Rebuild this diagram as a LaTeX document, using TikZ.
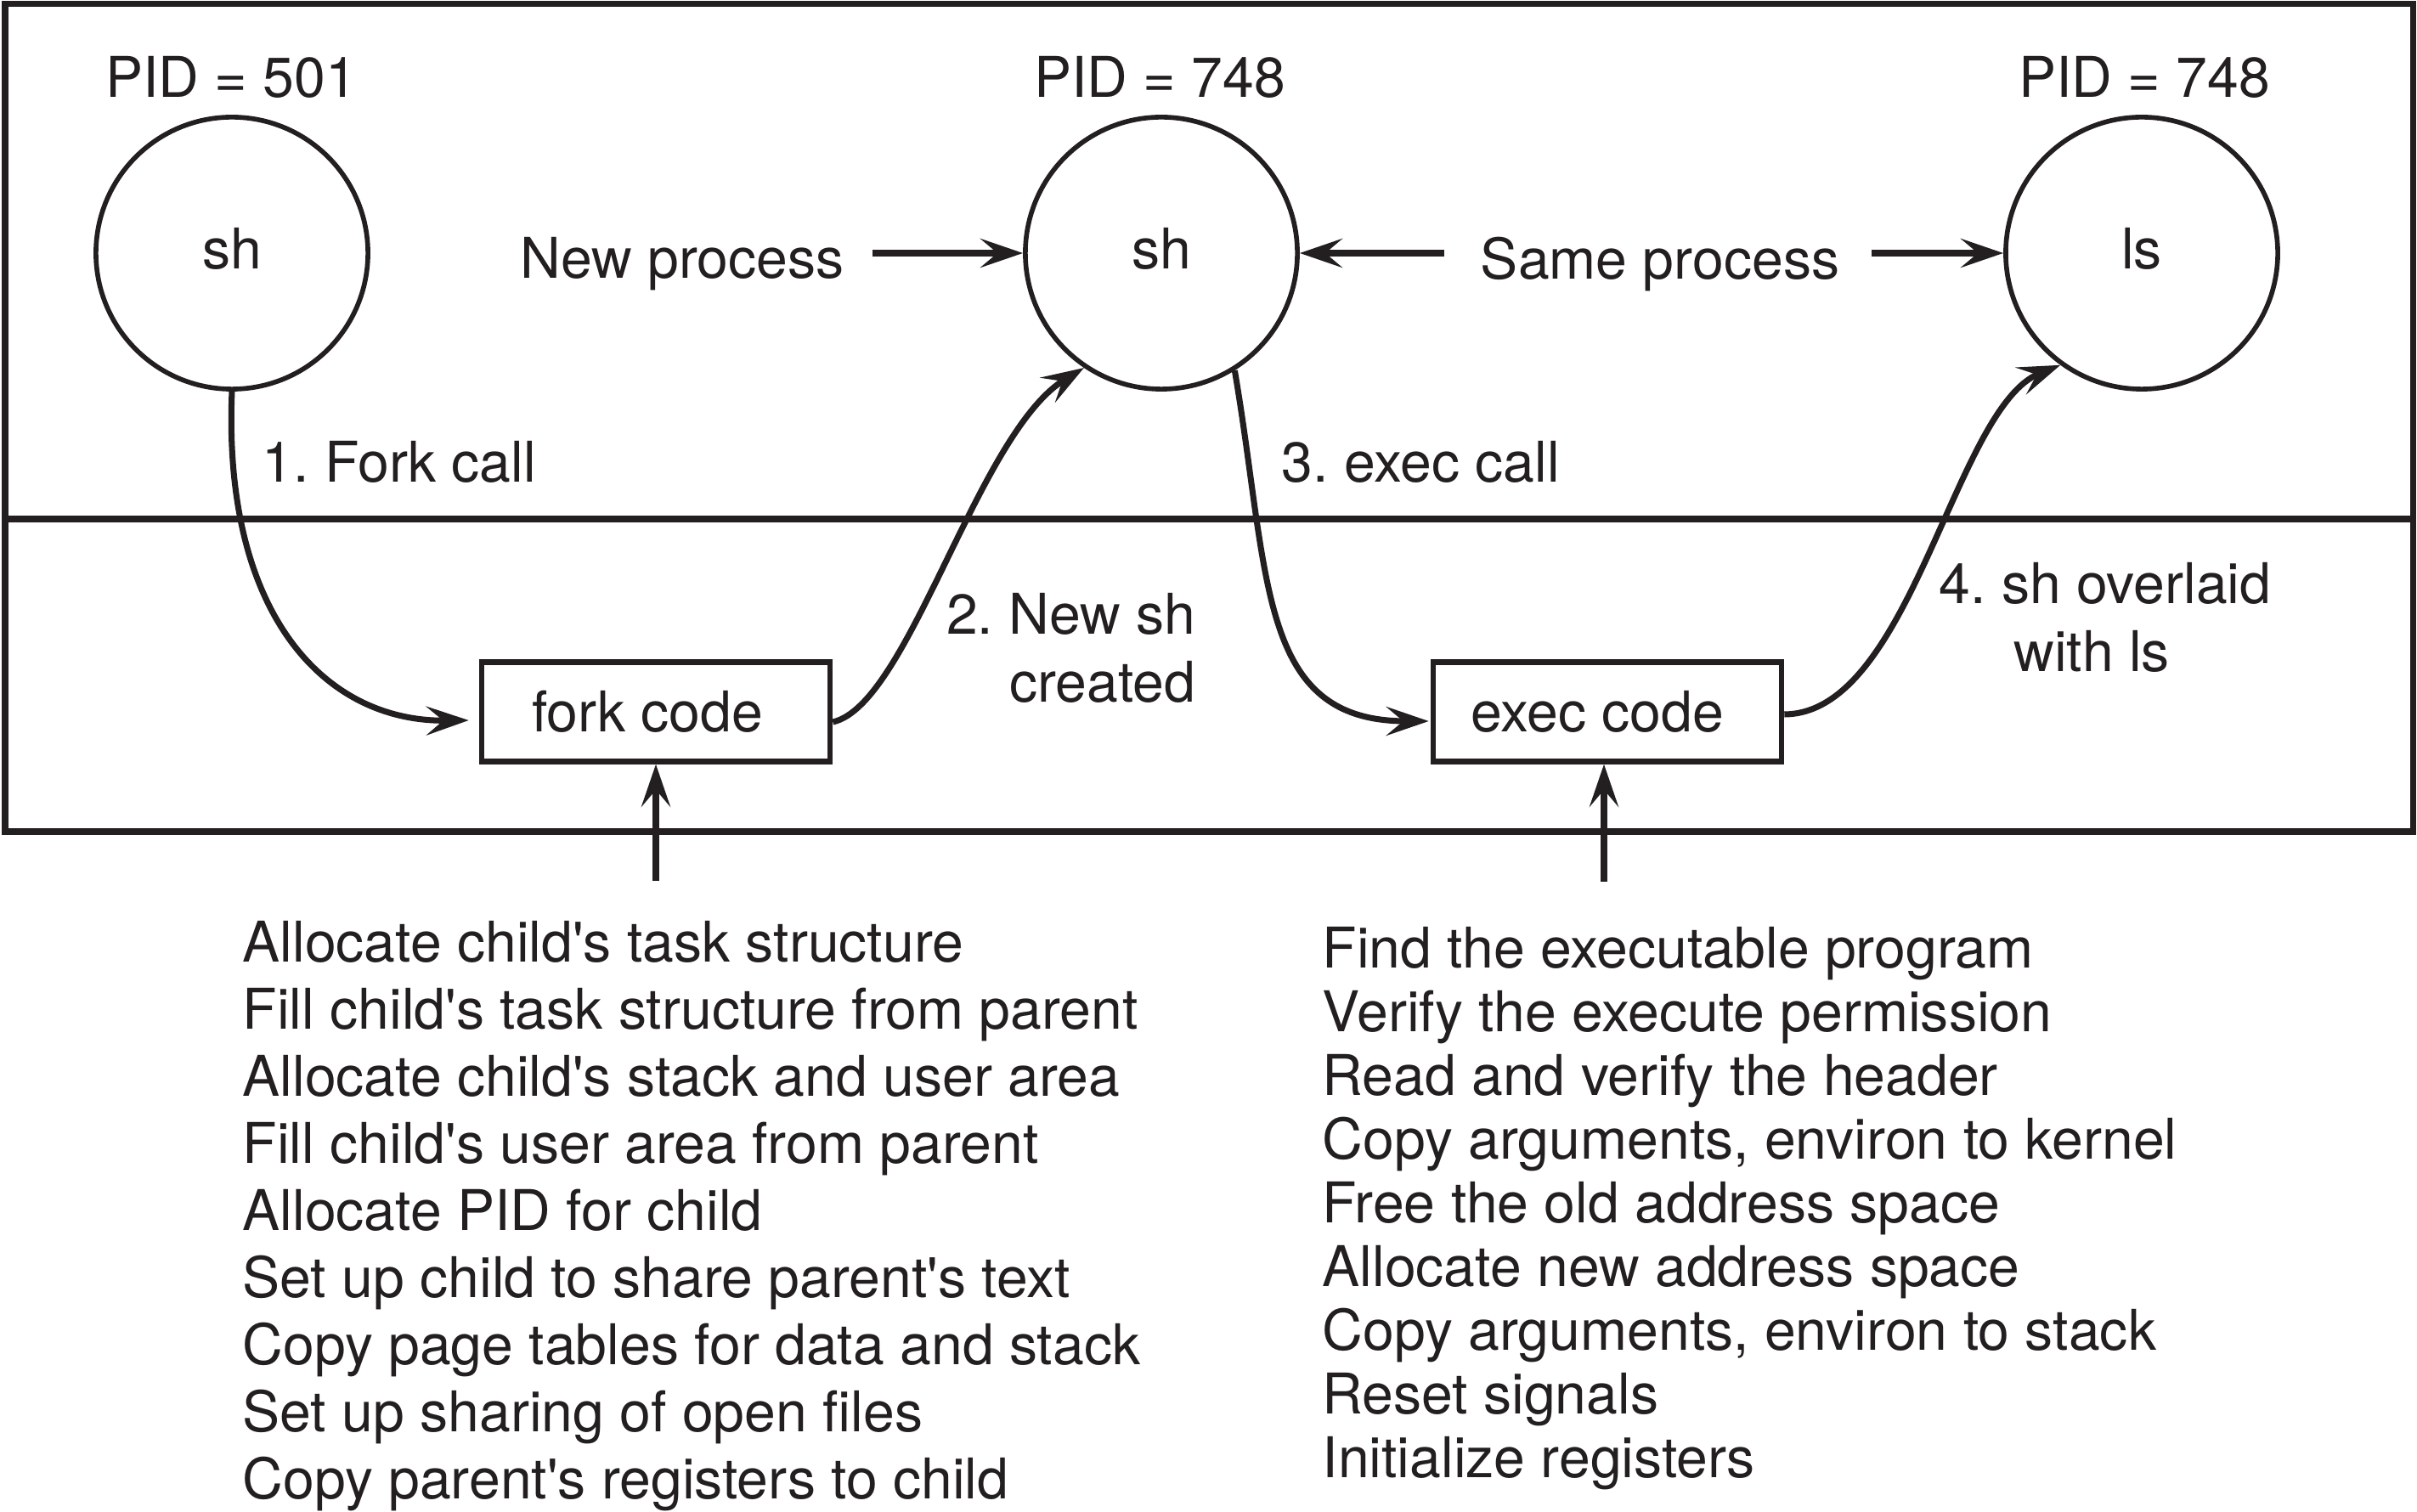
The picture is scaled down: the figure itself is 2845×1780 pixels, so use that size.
\documentclass[tikz,border=0pt]{standalone}
\usepackage{fontspec}
\setmainfont{TeX Gyre Heros}
\usetikzlibrary{arrows.meta}
\definecolor{ink}{RGB}{35,31,32}
\frenchspacing
\newcommand{\apo}{\textquotesingle}
\begin{document}
\begin{tikzpicture}[x=0.01cm,y=-0.01cm,
  every node/.style={text=ink, inner sep=0pt, font=\fontsize{18.8}{22.7}\selectfont},
  proc/.style={circle, draw=ink, line width=1.6pt, minimum size=3.2cm, text height=13.5pt, text depth=2.7pt},
  codebox/.style={rectangle, draw=ink, line width=1.8pt, minimum width=4.1cm, minimum height=1.17cm},
  conn/.style={draw=ink, line width=2pt, -{Stealth[length=0.5cm,width=0.34cm,inset=0.2cm]}},
  sarrow/.style={conn, line width=2.2pt},
  lbl/.style={anchor=base}]
\fill[white] (0,0) rectangle (2845,1780);
% frame
\draw[ink, line width=2pt] (6,5) rectangle (2840,979);
\draw[ink, line width=2pt] (6,611) -- (2840,611);
% processes
\node[proc] (c1) at (273,298) {sh};
\node[proc] (c2) at (1367,298) {sh};
\node[proc] (c3) at (2521,298) {ls};
\node[lbl] (p1) at (272,115) {PID = 501};
\node[lbl] (p2) at (1365,115) {PID = 748};
\node[lbl] (p3) at (2524,115) {PID = 748};
% code boxes
\node[codebox] (fbox) at (772,838) {fork code\kern5.7pt};
\node[codebox] (ebox) at (1892,838) {exec code\kern6.8pt};
% labels
\node[lbl] (np) at (803,328) {New process};
\node[lbl] (sp) at (1954,329) {Same process};
\node[lbl, anchor=base west] (fc) at (308,568) {1. Fork call};
\node[lbl, anchor=base west] (ec) at (1508,568) {3. exec call};
\node[anchor=north east, align=right] (ns) at (1408,698) {2. New sh\\created};
\node[anchor=north, align=center] (ov) at (2478,662) {4. sh overlaid\\with ls\kern9pt};
% straight arrows
\coordinate (a1) at (1027,298);
\coordinate (a2) at (1700,298);
\coordinate (a3) at (2203,298);
\draw[sarrow] (a1) -- (c2.west);
\draw[sarrow] (a2) -- (c2.east);
\draw[sarrow] (a3) -- (c3.west);
% curves
\draw[conn] (c1.south) .. controls (262,720) and (380,850) .. ([shift={(-12,10)}]fbox.west);
\draw[conn] ([shift={(0,12)}]fbox.east) .. controls (1070,830) and (1150,510) .. (c2.-124.6);
\draw[conn] (c2.-58) .. controls (1495,680) and (1480,849) .. ([shift={(-2,11)}]ebox.west);
\draw[conn] ([shift={(0,3)}]ebox.east) .. controls (2250,840) and (2300,480) .. (c3.-126);
% lists
\node[anchor=north west, align=left, font=\fontsize{18.8}{22.45}\selectfont] (flist) at (285,1084) {Allocate child\apo s task structure\\
Fill child\apo s task structure from parent\\
Allocate child\apo s stack and user area\\
Fill child\apo s user area from parent\\
Allocate PID for child\\
Set up child to share parent\apo s text\\
Copy page tables for data and stack\\
Set up sharing of open files\\
Copy parent\apo s registers to child};
\node[anchor=north west, align=left, font=\fontsize{18.8}{21.3}\selectfont] (elist) at (1556,1091) {Find the executable program\\
Verify the execute permission\\
Read and verify the header\\
Copy arguments, environ to kernel\\
Free the old address space\\
Allocate new address space\\
Copy arguments, environ to stack\\
Reset signals\\
Initialize registers};
% up arrows
\coordinate (u1) at (772,1037);
\coordinate (u2) at (1888,1038);
\draw[sarrow] (u1) -- (fbox.south);
\draw[sarrow] (u2) -- (u2 |- ebox.south);
\end{tikzpicture}
\end{document}
